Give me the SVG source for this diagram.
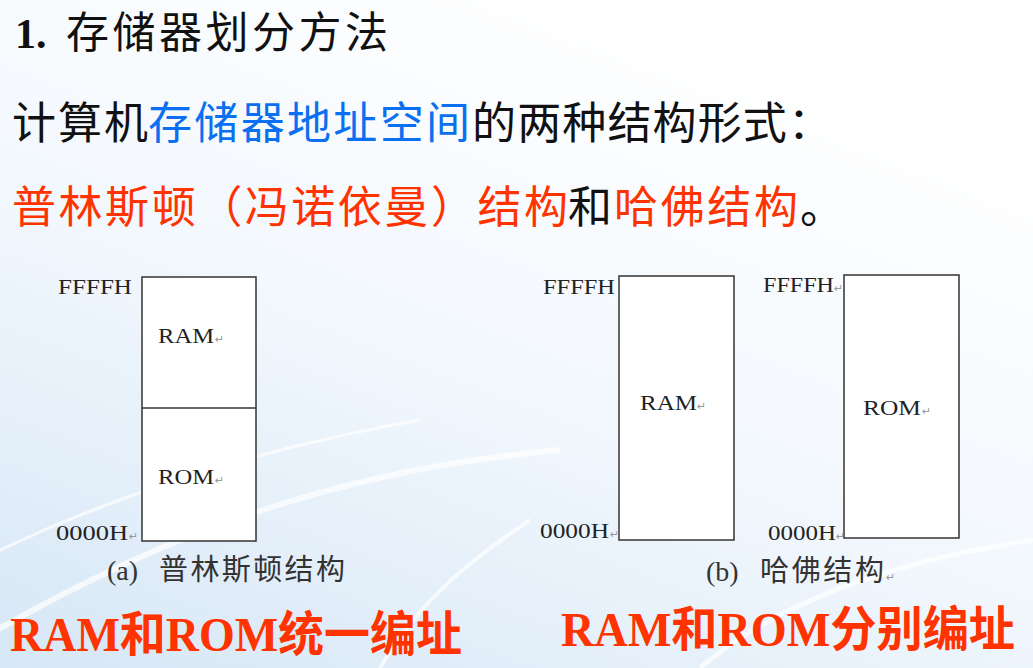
<svg xmlns="http://www.w3.org/2000/svg" width="1033" height="668" viewBox="0 0 1033 668">
<defs>
<linearGradient id="bg" x1="0.6" y1="0" x2="0" y2="1">
<stop offset="0" stop-color="#ffffff"/>
<stop offset="0.45" stop-color="#f3f8fd"/>
<stop offset="1" stop-color="#d6e7f6"/>
</linearGradient>
<style>
.cjk{font-family:"Noto Sans CJK SC",sans-serif;}
.ser{font-family:"Liberation Serif","Noto Sans CJK SC",serif;}
.lbl{font-family:"Liberation Serif",serif;font-size:21px;fill:#222;}
.ret{font-family:"DejaVu Sans",sans-serif;font-size:11px;fill:#999;}
.box{fill:#ffffff;stroke:#333;stroke-width:1.5;}
.red{fill:#ff3300;}
.blue{fill:#0a6ff0;}
.blk{fill:#111;}
</style>
</defs>
<rect width="1033" height="668" fill="url(#bg)"/>
<g fill="none" stroke="#ffffff" stroke-opacity="0.7">
<path d="M-20 640 C 150 540, 330 470, 560 450" stroke-width="6"/>
<path d="M380 668 C 420 600, 470 560, 530 520" stroke-width="4"/>
<path d="M700 668 C 780 600, 900 560, 1033 540" stroke-width="5"/>
<path d="M-20 560 C 100 500, 250 450, 420 420" stroke-width="3"/>
</g>

<g id="title">
<text x="15" y="48" class="ser blk" font-size="42" font-weight="bold">1.</text>
<text x="66" y="48" class="cjk blk" font-size="43" textLength="322" lengthAdjust="spacing">存储器划分方法</text>
</g>
<g id="line2">
<text x="12" y="139" class="cjk blk" font-size="44" textLength="136" lengthAdjust="spacing">计算机</text>
<text x="148" y="139" class="cjk blue" font-size="44" textLength="322" lengthAdjust="spacing">存储器地址空间</text>
<text x="472" y="139" class="cjk blk" font-size="44" textLength="360" lengthAdjust="spacing">的两种结构形式：</text>
</g>
<g id="line3">
<text x="12" y="223" class="cjk red" font-size="44" textLength="556" lengthAdjust="spacing">普林斯顿（冯诺依曼）结构</text>
<text x="568" y="223" class="cjk blk" font-size="44">和</text>
<text x="614" y="223" class="cjk red" font-size="44" textLength="184" lengthAdjust="spacing">哈佛结构</text>
<text x="800" y="223" class="cjk blk" font-size="44">。</text>
</g>

<g id="diagram-a">
<rect class="box" x="142" y="277" width="114" height="264"/>
<line x1="142" y1="408" x2="256" y2="408" stroke="#333" stroke-width="1.5"/>
<text class="lbl" x="58" y="294" textLength="74" lengthAdjust="spacingAndGlyphs">FFFFH</text>
<text class="lbl" x="56" y="540" textLength="72" lengthAdjust="spacingAndGlyphs">0000H</text>
<text class="ret" x="129" y="540">↵</text>
<text class="lbl" x="158" y="343" textLength="56" lengthAdjust="spacingAndGlyphs">RAM</text>
<text class="ret" x="215" y="343">↵</text>
<text class="lbl" x="158" y="484" textLength="56" lengthAdjust="spacingAndGlyphs">ROM</text>
<text class="ret" x="215" y="484">↵</text>
<text x="107" y="580" class="ser" font-size="28" fill="#333">(a)</text>
<text x="159" y="580" class="cjk" font-size="29" fill="#333" textLength="186" lengthAdjust="spacing">普林斯顿结构</text>
</g>

<g id="diagram-b-ram">
<rect class="box" x="619" y="276" width="115" height="264"/>
<text class="lbl" x="543" y="294" textLength="72" lengthAdjust="spacingAndGlyphs">FFFFH</text>
<text class="lbl" x="540" y="538" textLength="69" lengthAdjust="spacingAndGlyphs">0000H</text>
<text class="ret" x="610" y="538">↵</text>
<text class="lbl" x="640" y="410" textLength="57" lengthAdjust="spacingAndGlyphs">RAM</text>
<text class="ret" x="697" y="410">↵</text>
</g>
<g id="diagram-b-rom">
<rect class="box" x="844" y="275" width="115" height="263"/>
<text class="lbl" x="763" y="292" textLength="71" lengthAdjust="spacingAndGlyphs">FFFFH</text>
<text class="ret" x="834" y="292">↵</text>
<text class="lbl" x="768" y="540" textLength="68" lengthAdjust="spacingAndGlyphs">0000H</text>
<text class="ret" x="836" y="540">↵</text>
<text class="lbl" x="863" y="415" textLength="58" lengthAdjust="spacingAndGlyphs">ROM</text>
<text class="ret" x="922" y="415">↵</text>
<text x="706" y="581" class="ser" font-size="28" fill="#333">(b)</text>
<text x="760" y="581" class="cjk" font-size="29" fill="#333" textLength="124" lengthAdjust="spacing">哈佛结构</text>
<text class="ret" x="886" y="581">↵</text>
</g>

<g id="footer">
<text x="10" y="651" class="ser red" font-size="48" font-weight="bold" textLength="452" lengthAdjust="spacingAndGlyphs">RAM和ROM统一编址</text>
<text x="561" y="646" class="ser red" font-size="48" font-weight="bold" textLength="454" lengthAdjust="spacingAndGlyphs">RAM和ROM分别编址</text>
</g>
</svg>
